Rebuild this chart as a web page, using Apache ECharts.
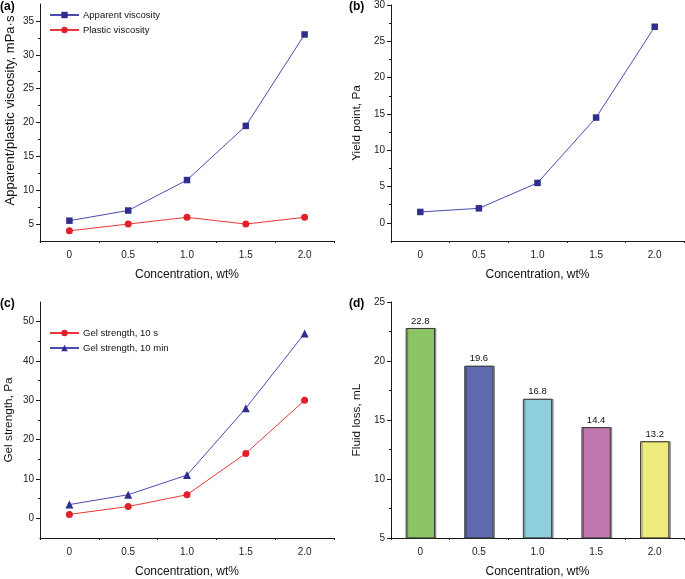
<!DOCTYPE html>
<html>
<head>
<meta charset="utf-8">
<script src="https://cdn.jsdelivr.net/npm/echarts@6/dist/echarts.min.js"></script>
<style>
html,body{margin:0;padding:0;background:#fff;}
#chart{width:685px;height:579px;}
</style>
</head>
<body>
<div id="chart"></div>
<script>
const categories = ['0', '0.5', '1.0', '1.5', '2.0'];
const apparentViscosity = [5.5, 7, 11.5, 19.5, 33];
const plasticViscosity = [4, 5, 6, 5, 6];
const yieldPoint = [1.5, 2, 5.5, 14.5, 27];
const gel10s = [1, 3, 6, 16.5, 30];
const gel10min = [3.5, 6, 11, 28, 47];
const fluidLoss = [22.8, 19.6, 16.8, 14.4, 13.2];

const ticksA = [5, 10, 15, 20, 25, 30, 35];
const minorA = [7.5, 12.5, 17.5, 22.5, 27.5, 32.5];
const ticksB = [0, 5, 10, 15, 20, 25, 30];
const minorB = [2.5, 7.5, 12.5, 17.5, 22.5, 27.5];
const ticksC = [0, 10, 20, 30, 40, 50];
const minorC = [5, 15, 25, 35, 45];
const ticksD = [5, 10, 15, 20, 25];
const minorD = [7.5, 12.5, 17.5, 22.5];

const barColors = ['#8cc563', '#5e69b0', '#8dd0dc', '#bf79b0', '#eeea7b'];

const FONT = 'Liberation Sans, Arial, sans-serif';
const AX = '#1a1a1a';
const BLUE_LINE = '#4c4cb0';
const BLUE_MARK = '#2e2e8f';
const RED_LINE = '#e8383a';
const RED_MARK = '#e2202a';

const grids = [
  {left: 40, top: 4, width: 294, height: 237},
  {left: 391, top: 5, width: 293, height: 236},
  {left: 40, top: 302, width: 294, height: 236},
  {left: 391, top: 302, width: 293, height: 236}
];

const xAxes = [];
const yAxes = [];
function addX(g) {
  xAxes.push({
    type: 'category', gridIndex: g, data: categories, boundaryGap: true, position: 'bottom',
    name: 'Concentration, wt%', nameLocation: 'middle', nameGap: 28,
    nameTextStyle: {fontFamily: FONT, fontSize: 12, color: '#111'},
    axisLine: {onZero: false, lineStyle: {color: AX, width: 1}},
    axisTick: {alignWithLabel: true, length: 4, lineStyle: {color: AX}},
    axisLabel: {fontFamily: FONT, fontSize: 10, color: '#222', margin: 9},
    splitLine: {show: false}
  });
  xAxes.push({
    type: 'category', gridIndex: g, data: categories, boundaryGap: true, position: 'bottom',
    axisLine: {show: false, onZero: false},
    axisTick: {show: true, alignWithLabel: false, interval: 0, length: 2, lineStyle: {color: AX}},
    axisLabel: {show: false}, splitLine: {show: false}
  });
}
function addY(g, min, max, ticks, minors, name, fs, gap, pad) {
  yAxes.push({
    type: 'value', gridIndex: g, min: min, max: max, position: 'left',
    name: name, nameLocation: 'middle', nameGap: gap,
    nameTextStyle: {fontFamily: FONT, fontSize: fs, color: '#111', padding: pad},
    axisLine: {show: true, onZero: false, lineStyle: {color: AX, width: 1}},
    axisTick: {show: true, customValues: ticks, length: 4, lineStyle: {color: AX}},
    axisLabel: {customValues: ticks, fontFamily: FONT, fontSize: 10, color: '#222', margin: 6},
    splitLine: {show: false}
  });
  yAxes.push({
    type: 'value', gridIndex: g, min: min, max: max, position: 'left',
    axisLine: {show: false, onZero: false},
    axisTick: {show: true, customValues: minors, length: 2, lineStyle: {color: AX}},
    axisLabel: {show: false}, splitLine: {show: false}
  });
}
for (let g = 0; g < 4; g++) addX(g);
addY(0, 2.5, 37.5, ticksA, minorA, 'Apparent/plastic viscosity, mPa\u00b7s', 13, 23, [0, 0, 0, 24]);
addY(1, -2.5, 30, ticksB, minorB, 'Yield point, Pa', 11.8, 28, [0, 0, 0, 0]);
addY(2, -5, 55, ticksC, minorC, 'Gel strength, Pa', 11.8, 25, [0, 0, 0, 0]);
addY(3, 5, 25, ticksD, minorD, 'Fluid loss, mL', 11.8, 28, [0, 0, 0, 0]);

function lineSeries(name, data, xi, yi, symbol, size, lineColor, markColor) {
  return {
    type: 'line', name: name, data: data, xAxisIndex: xi, yAxisIndex: yi,
    symbol: symbol, symbolSize: size, showAllSymbol: true,
    lineStyle: {color: lineColor, width: 1},
    itemStyle: {color: markColor},
    emphasis: {disabled: true}, animation: false
  };
}

const option = {
  animation: false,
  backgroundColor: '#fff',
  title: [
    {text: '(a)', left: 0, top: 1, padding: 0, textStyle: {fontFamily: FONT, fontSize: 12, fontWeight: 'bold', color: '#000'}},
    {text: '(b)', left: 349, top: 1, padding: 0, textStyle: {fontFamily: FONT, fontSize: 12, fontWeight: 'bold', color: '#000'}},
    {text: '(c)', left: 0, top: 298, padding: 0, textStyle: {fontFamily: FONT, fontSize: 12, fontWeight: 'bold', color: '#000'}},
    {text: '(d)', left: 349, top: 298, padding: 0, textStyle: {fontFamily: FONT, fontSize: 12, fontWeight: 'bold', color: '#000'}}
  ],
  legend: [
    {data: ['Apparent viscosity', 'Plastic viscosity'], orient: 'vertical', left: 49, top: 10, padding: 0,
     itemWidth: 29, itemHeight: 8, itemGap: 5, textStyle: {fontFamily: FONT, fontSize: 9.5, color: '#111', padding: [0, 0, 0, -1]}},
    {data: ['Gel strength, 10 s', 'Gel strength, 10 min'], orient: 'vertical', left: 49, top: 328, padding: 0,
     itemWidth: 29, itemHeight: 8, itemGap: 5, textStyle: {fontFamily: FONT, fontSize: 9.5, color: '#111', padding: [0, 0, 0, -1]}}
  ],
  grid: grids,
  xAxis: xAxes,
  yAxis: yAxes,
  series: [
    lineSeries('Apparent viscosity', apparentViscosity, 0, 0, 'rect', 6.5, BLUE_LINE, BLUE_MARK),
    lineSeries('Plastic viscosity', plasticViscosity, 0, 0, 'circle', 7, RED_LINE, RED_MARK),
    lineSeries('Yield point', yieldPoint, 2, 2, 'rect', 6.5, BLUE_LINE, BLUE_MARK),
    lineSeries('Gel strength, 10 s', gel10s, 4, 4, 'circle', 7, RED_LINE, RED_MARK),
    lineSeries('Gel strength, 10 min', gel10min, 4, 4, 'triangle', 8, BLUE_LINE, BLUE_MARK),
    {
      type: 'bar', name: 'Fluid loss', xAxisIndex: 6, yAxisIndex: 6,
      data: fluidLoss.map((v, i) => ({value: v, itemStyle: {color: barColors[i]}})),
      barWidth: '50%',
      itemStyle: {borderColor: '#3a3a3a', borderWidth: 1, shadowColor: 'rgba(0,0,0,0.35)', shadowOffsetX: 1.5, shadowBlur: 0},
      label: {show: true, position: 'top', distance: 2, fontFamily: FONT, fontSize: 9.5, color: '#111', formatter: p => p.value.toFixed(1)},
      emphasis: {disabled: true}
    }
  ]
};

const chart = echarts.init(document.getElementById('chart'), null, {renderer: 'canvas'});
chart.setOption(option);
</script>
</body>
</html>
